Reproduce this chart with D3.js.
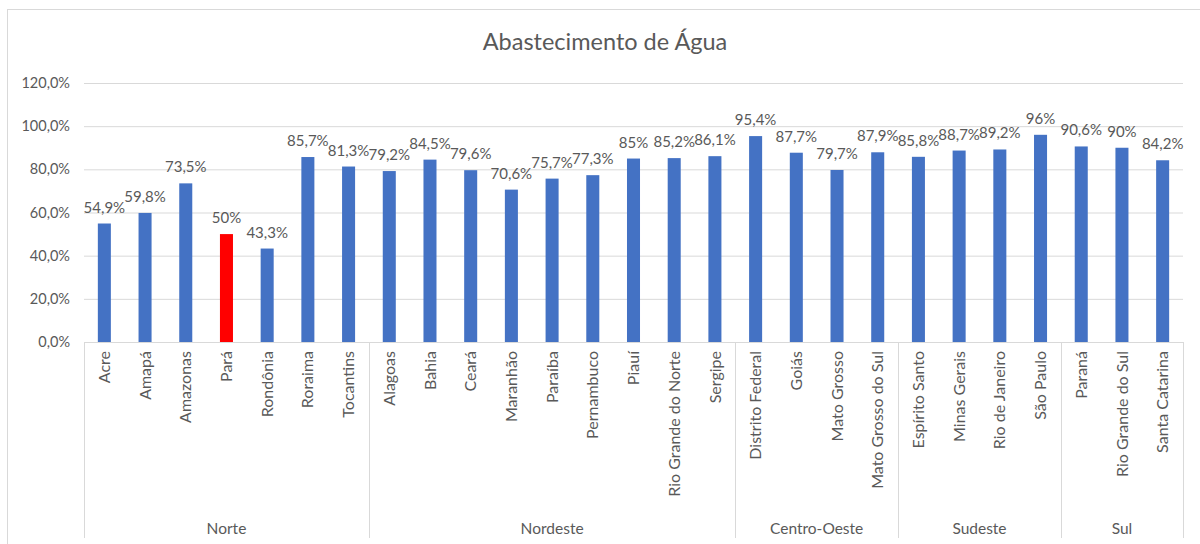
<!DOCTYPE html>
<html>
<head>
<meta charset="utf-8">
<script src="https://cdn.jsdelivr.net/npm/d3@7"></script>
<style>
  html, body { margin: 0; padding: 0; background: #fff; }
  svg { display: block; }
  text { font-family: Lato, "Open Sans", sans-serif; fill: #595959; }
</style>
</head>
<body>
<svg id="chart" width="1200" height="544"></svg>
<script>
// Água: percentage of population served, by state and region
const regions = ["Norte", "Nordeste", "Centro-Oeste", "Sudeste", "Sul"];
const regionSizes = [7, 9, 4, 4, 3];
const states = [
  "Acre", "Amapá", "Amazonas", "Pará", "Rondônia", "Roraima", "Tocantins",
  "Alagoas", "Bahia", "Ceará", "Maranhão", "Paraíba", "Pernambuco", "Piauí", "Rio Grande do Norte", "Sergipe",
  "Distrito Federal", "Goiás", "Mato Grosso", "Mato Grosso do Sul",
  "Espírito Santo", "Minas Gerais", "Rio de Janeiro", "São Paulo",
  "Paraná", "Rio Grande do Sul", "Santa Catarina"
];
const values = [
  54.9, 59.8, 73.5, 50, 43.3, 85.7, 81.3,
  79.2, 84.5, 79.6, 70.6, 75.7, 77.3, 85, 85.2, 86.1,
  95.4, 87.7, 79.7, 87.9,
  85.8, 88.7, 89.2, 96,
  90.6, 90, 84.2
];
const highlighted = ["Pará"];
const yTicks = [0, 20, 40, 60, 80, 100, 120];
const title = "Abastecimento de Água";

const svg = d3.select("#chart");
const W = 1200, H = 544;
const plot = { left: 84, right: 1183, top: 83, bottom: 342 };

// outer chart frame
svg.append("rect")
  .attr("x", 7.5).attr("y", 9.5)
  .attr("width", W).attr("height", H)
  .attr("fill", "#fff").attr("stroke", "#d9d9d9");

svg.append("text")
  .attr("x", 605).attr("y", 50)
  .attr("text-anchor", "middle")
  .style("font-size", "23.5px")
  .text(title);

const x = d3.scaleBand().domain(states).range([plot.left, plot.right]).padding(0);
const y = d3.scaleLinear().domain([0, 120]).range([plot.bottom, plot.top]);

// gridlines + y labels
const yAxis = d3.axisLeft(y)
  .tickValues(yTicks)
  .tickSize(-(plot.right - plot.left))
  .tickPadding(14)
  .tickFormat(d => d3.format(".1f")(d).replace(".", ",") + "%");
const gy = svg.append("g").attr("transform", `translate(${plot.left},0)`).call(yAxis);
gy.select(".domain").remove();
gy.selectAll(".tick line").attr("stroke", "#d9d9d9").attr("stroke-width", 1);
gy.selectAll(".tick text").style("font-size", "14.5px").attr("fill", "#595959");

// bars
const barW = x.bandwidth() * 0.32;
svg.append("g").selectAll("rect")
  .data(states)
  .join("rect")
  .attr("x", (d) => x(d) + (x.bandwidth() - barW) / 2)
  .attr("y", (d, i) => y(values[i]))
  .attr("width", barW)
  .attr("height", (d, i) => y(0) - y(values[i]))
  .attr("fill", d => highlighted.includes(d) ? "#ff0000" : "#4472c4");

// value labels
const fmtVal = v => (Number.isInteger(v) ? String(v) : v.toFixed(1).replace(".", ",")) + "%";
svg.append("g").selectAll("text")
  .data(states)
  .join("text")
  .attr("x", d => x(d) + x.bandwidth() / 2)
  .attr("y", (d, i) => y(values[i]) - 11)
  .attr("text-anchor", "middle")
  .style("font-size", "15px")
  .text((d, i) => fmtVal(values[i]));

// category axis line
svg.append("line")
  .attr("x1", plot.left).attr("x2", plot.right)
  .attr("y1", plot.bottom + 0.5).attr("y2", plot.bottom + 0.5)
  .attr("stroke", "#d9d9d9");

// state labels (rotated)
svg.append("g").selectAll("text")
  .data(states)
  .join("text")
  .attr("transform", d => `translate(${x(d) + x.bandwidth() / 2},${plot.bottom + 9}) rotate(-90)`)
  .attr("text-anchor", "end")
  .attr("dy", "0.35em")
  .style("font-size", "16px")
  .text(d => d);

// region separators and labels
let start = 0;
const bounds = [0];
regionSizes.forEach(n => { start += n; bounds.push(start); });
const edgeX = i => i < states.length ? x(states[i]) : plot.right;
svg.append("g").selectAll("line")
  .data(bounds)
  .join("line")
  .attr("x1", i => Math.round(edgeX(i)) + 0.5)
  .attr("x2", i => Math.round(edgeX(i)) + 0.5)
  .attr("y1", plot.bottom)
  .attr("y2", 538)
  .attr("stroke", "#d9d9d9");

svg.append("g").selectAll("text")
  .data(regions)
  .join("text")
  .attr("x", (d, i) => (edgeX(bounds[i]) + edgeX(bounds[i + 1])) / 2)
  .attr("y", 534)
  .attr("text-anchor", "middle")
  .style("font-size", "15.5px")
  .text(d => d);
</script>
</body>
</html>
